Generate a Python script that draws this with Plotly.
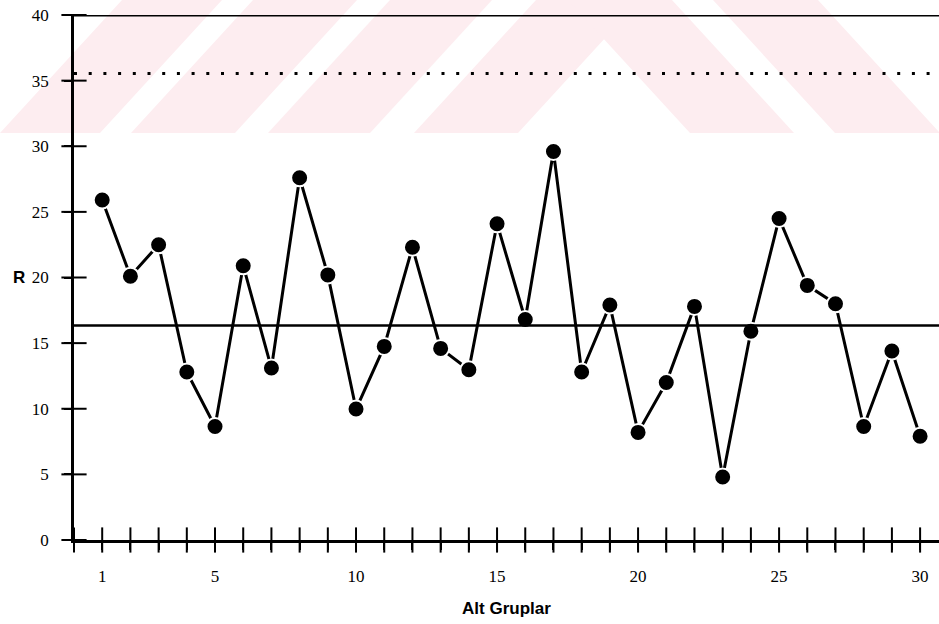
import plotly.graph_objects as go

# ---- data ----
SUBGROUPS = list(range(1, 31))
R_VALUES = [25.9, 20.1, 22.5, 12.8, 8.65, 20.9, 13.1, 27.6, 20.2, 9.98,
            14.75, 22.3, 14.6, 12.97, 24.1, 16.8, 29.6, 12.8, 17.9, 8.2,
            12.0, 17.8, 4.8, 15.9, 24.5, 19.4, 18.0, 8.65, 14.4, 7.9]
CENTER_LINE = 16.35
UCL = 35.55
TOP_LINE = 40
X_TICK_VALUES = list(range(0, 31))
X_TICK_LABELS = ["" if v not in (1, 5, 10, 15, 20, 25, 30) else str(v) for v in X_TICK_VALUES]
Y_TICK_VALUES = [0, 5, 10, 15, 20, 25, 30, 35, 40]
Y_TICK_LABELS = [str(v) for v in Y_TICK_VALUES]
X_RANGE = [0, 30.67]
Y_RANGE = [0, 40]

TICK_FONT = dict(family="Liberation Serif, Times New Roman, serif", size=17, color="black")
TITLE_FONT = dict(family="Liberation Sans, Arial, sans-serif", size=17, color="black")

W, H = 939, 624
ML, MR, MT, MB = 74, 0, 15, 84

fig = go.Figure()

# crossing tick marks drawn as short line symbols centred on the axis lines
fig.add_trace(go.Scatter(
    x=X_TICK_VALUES, y=[Y_RANGE[0]] * len(X_TICK_VALUES), mode="markers",
    marker=dict(symbol="line-ns", size=18, line=dict(color="black", width=2)),
    cliponaxis=False, showlegend=False, hoverinfo="skip",
))
fig.add_trace(go.Scatter(
    x=[X_RANGE[0]] * len(Y_TICK_VALUES), y=Y_TICK_VALUES, mode="markers",
    marker=dict(symbol="line-ew", size=18, line=dict(color="black", width=2)),
    cliponaxis=False, showlegend=False, hoverinfo="skip",
))

fig.add_trace(go.Scatter(
    x=SUBGROUPS, y=R_VALUES, mode="lines+markers",
    line=dict(color="black", width=3),
    marker=dict(color="black", size=17, line=dict(color="white", width=2)),
    showlegend=False, hoverinfo="x+y",
))

fig.add_hline(y=CENTER_LINE, line=dict(color="black", width=2.5))
fig.add_hline(y=UCL, line=dict(color="black", width=3, dash="3px,11.7px"))
fig.add_hline(y=TOP_LINE, line=dict(color="black", width=3))

# faint pink scan watermark (decoration) behind the chart
PW, PH = W - ML - MR, H - MT - MB


def px(xp):
    return (xp - ML) / PW


def py(yp):
    return 1 - (yp - MT) / PH


WM_TOP, WM_BOT, WM_SHIFT = 0, 133, 122
stripes = [(0, 100, 1), (131, 235, 1), (268, 370, 1), (414, 518, 1),
           (690, 794, -1), (835, 940, -1)]
for x0, x1, d in stripes:
    path = "M {:.5f},{:.5f} L {:.5f},{:.5f} L {:.5f},{:.5f} L {:.5f},{:.5f} Z".format(
        px(x0), py(WM_BOT), px(x1), py(WM_BOT),
        px(x1 + d * WM_SHIFT), py(WM_TOP), px(x0 + d * WM_SHIFT), py(WM_TOP))
    fig.add_shape(type="path", path=path, xref="paper", yref="paper",
                  fillcolor="#fdedf0", line=dict(width=0), layer="below")

fig.update_layout(
    width=W, height=H,
    margin=dict(l=ML, r=MR, t=MT, b=MB),
    paper_bgcolor="white", plot_bgcolor="rgba(0,0,0,0)",
    xaxis=dict(range=X_RANGE, tickmode="array", tickvals=X_TICK_VALUES, ticktext=X_TICK_LABELS,
               ticks="outside", ticklen=7, tickwidth=2, tickcolor="black",
               showline=True, linecolor="black", linewidth=2.5, showgrid=False, zeroline=False,
               tickfont=TICK_FONT, ticklabelstandoff=12,
               title=dict(text="<b>Alt Gruplar</b>", font=TITLE_FONT, standoff=17)),
    yaxis=dict(range=Y_RANGE, tickmode="array", tickvals=Y_TICK_VALUES, ticktext=Y_TICK_LABELS,
               ticks="outside", ticklen=7, tickwidth=2, tickcolor="black",
               showline=True, linecolor="black", linewidth=2.5, showgrid=False, zeroline=False,
               tickfont=TICK_FONT, ticklabelstandoff=12),
)

fig.add_annotation(text="<b>R</b>", x=0, xref="paper", xanchor="left", xshift=-63,
                   y=20, yref="y", yanchor="middle", showarrow=False, font=TITLE_FONT)

fig.write_html("out.html")
